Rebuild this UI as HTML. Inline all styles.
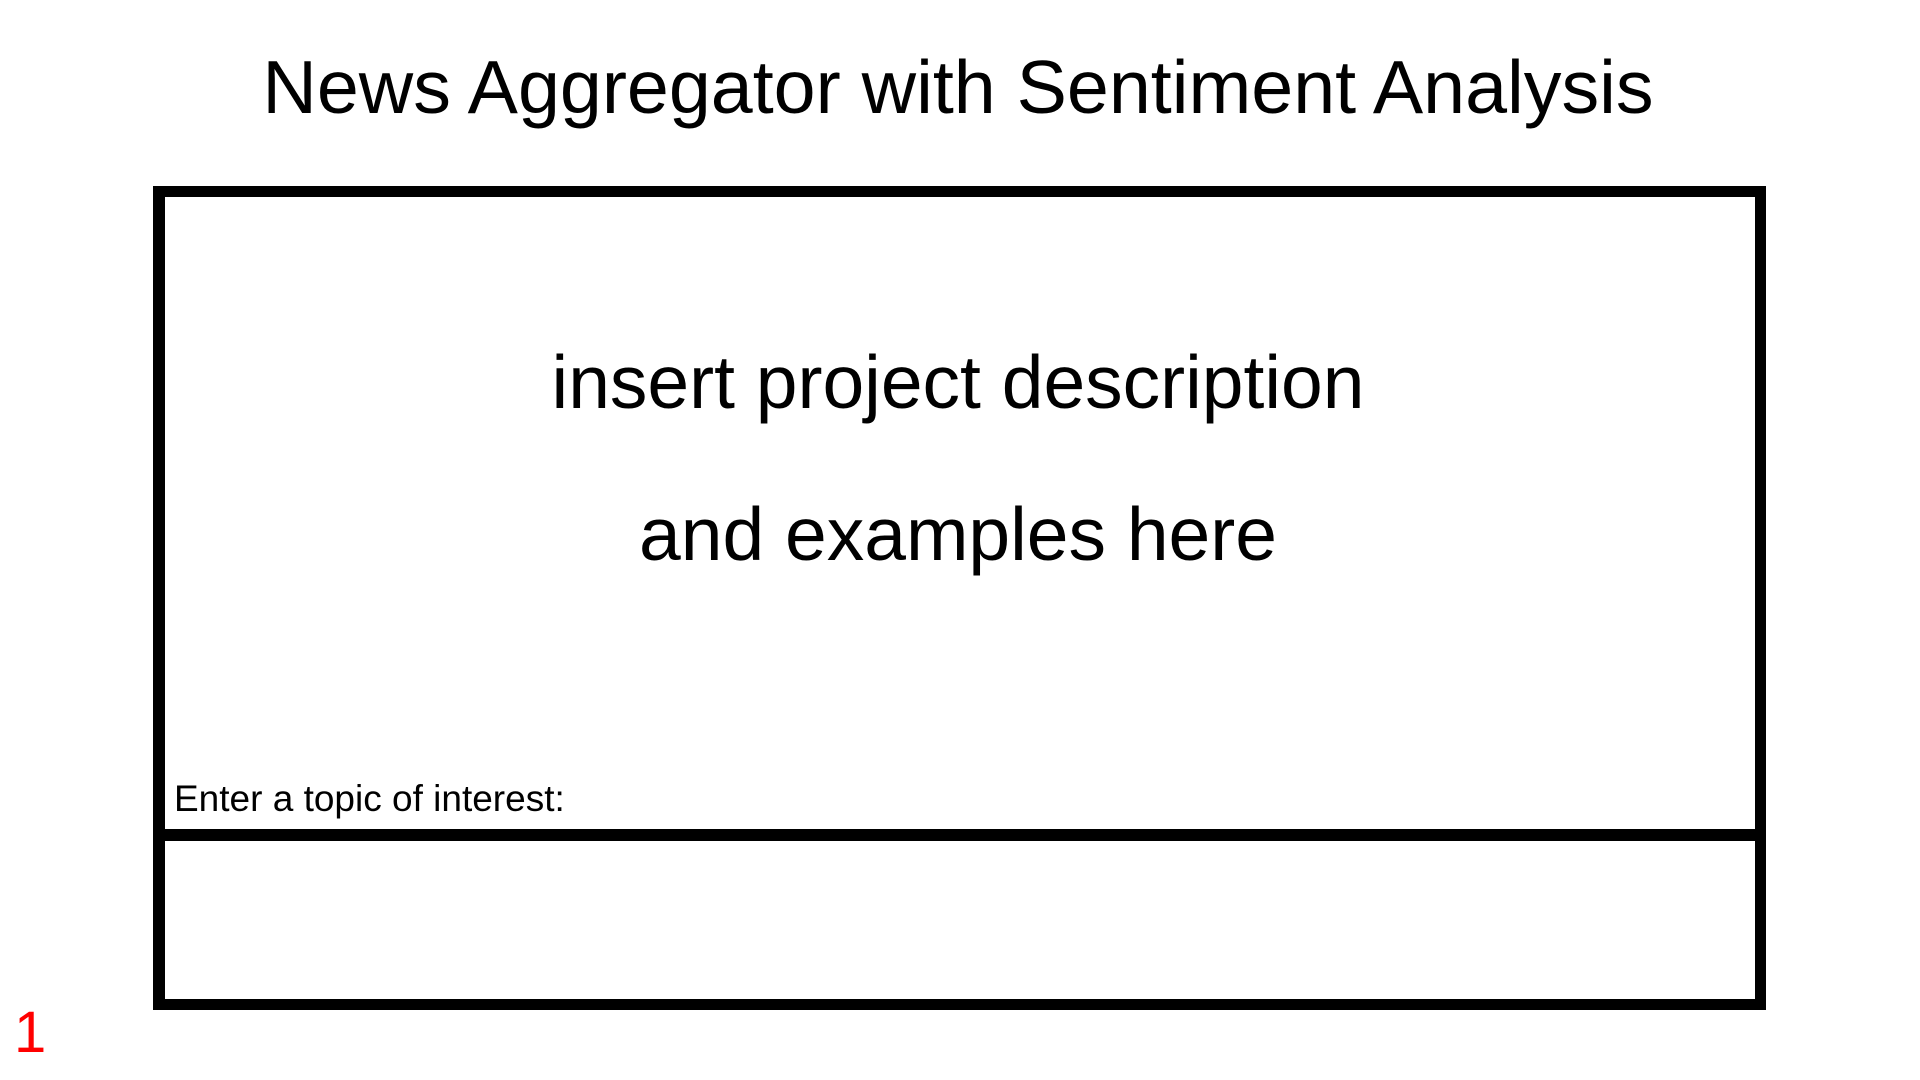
<!DOCTYPE html>
<html><head><style>
body{margin:0;width:1920px;height:1080px;background:#fff;position:relative;overflow:hidden;font-family:"Liberation Sans",Arial,sans-serif;}
.t{position:absolute;white-space:nowrap;line-height:1;}
.b{position:absolute;background:#000;}
</style></head><body>
<div class="t" style="left:0;width:1916px;text-align:center;top:50px;font-size:75.4px;">News Aggregator with Sentiment Analysis</div>
<div class="b" style="left:153px;top:186px;width:1613px;height:11px;"></div>
<div class="b" style="left:153px;top:999px;width:1613px;height:11px;"></div>
<div class="b" style="left:153px;top:186px;width:12px;height:824px;"></div>
<div class="b" style="left:1755px;top:186px;width:11px;height:824px;"></div>
<div class="b" style="left:153px;top:829px;width:1613px;height:12px;"></div>
<div class="t" style="left:0;width:1916px;text-align:center;top:345px;font-size:75px;">insert project description</div>
<div class="t" style="left:0;width:1916px;text-align:center;top:497px;font-size:75px;">and examples here</div>
<div class="t" style="left:174px;top:780px;font-size:37px;">Enter a topic of interest:</div>
<div class="t" style="left:14px;top:1004px;font-size:58px;color:#f00;">1</div>
</body></html>
